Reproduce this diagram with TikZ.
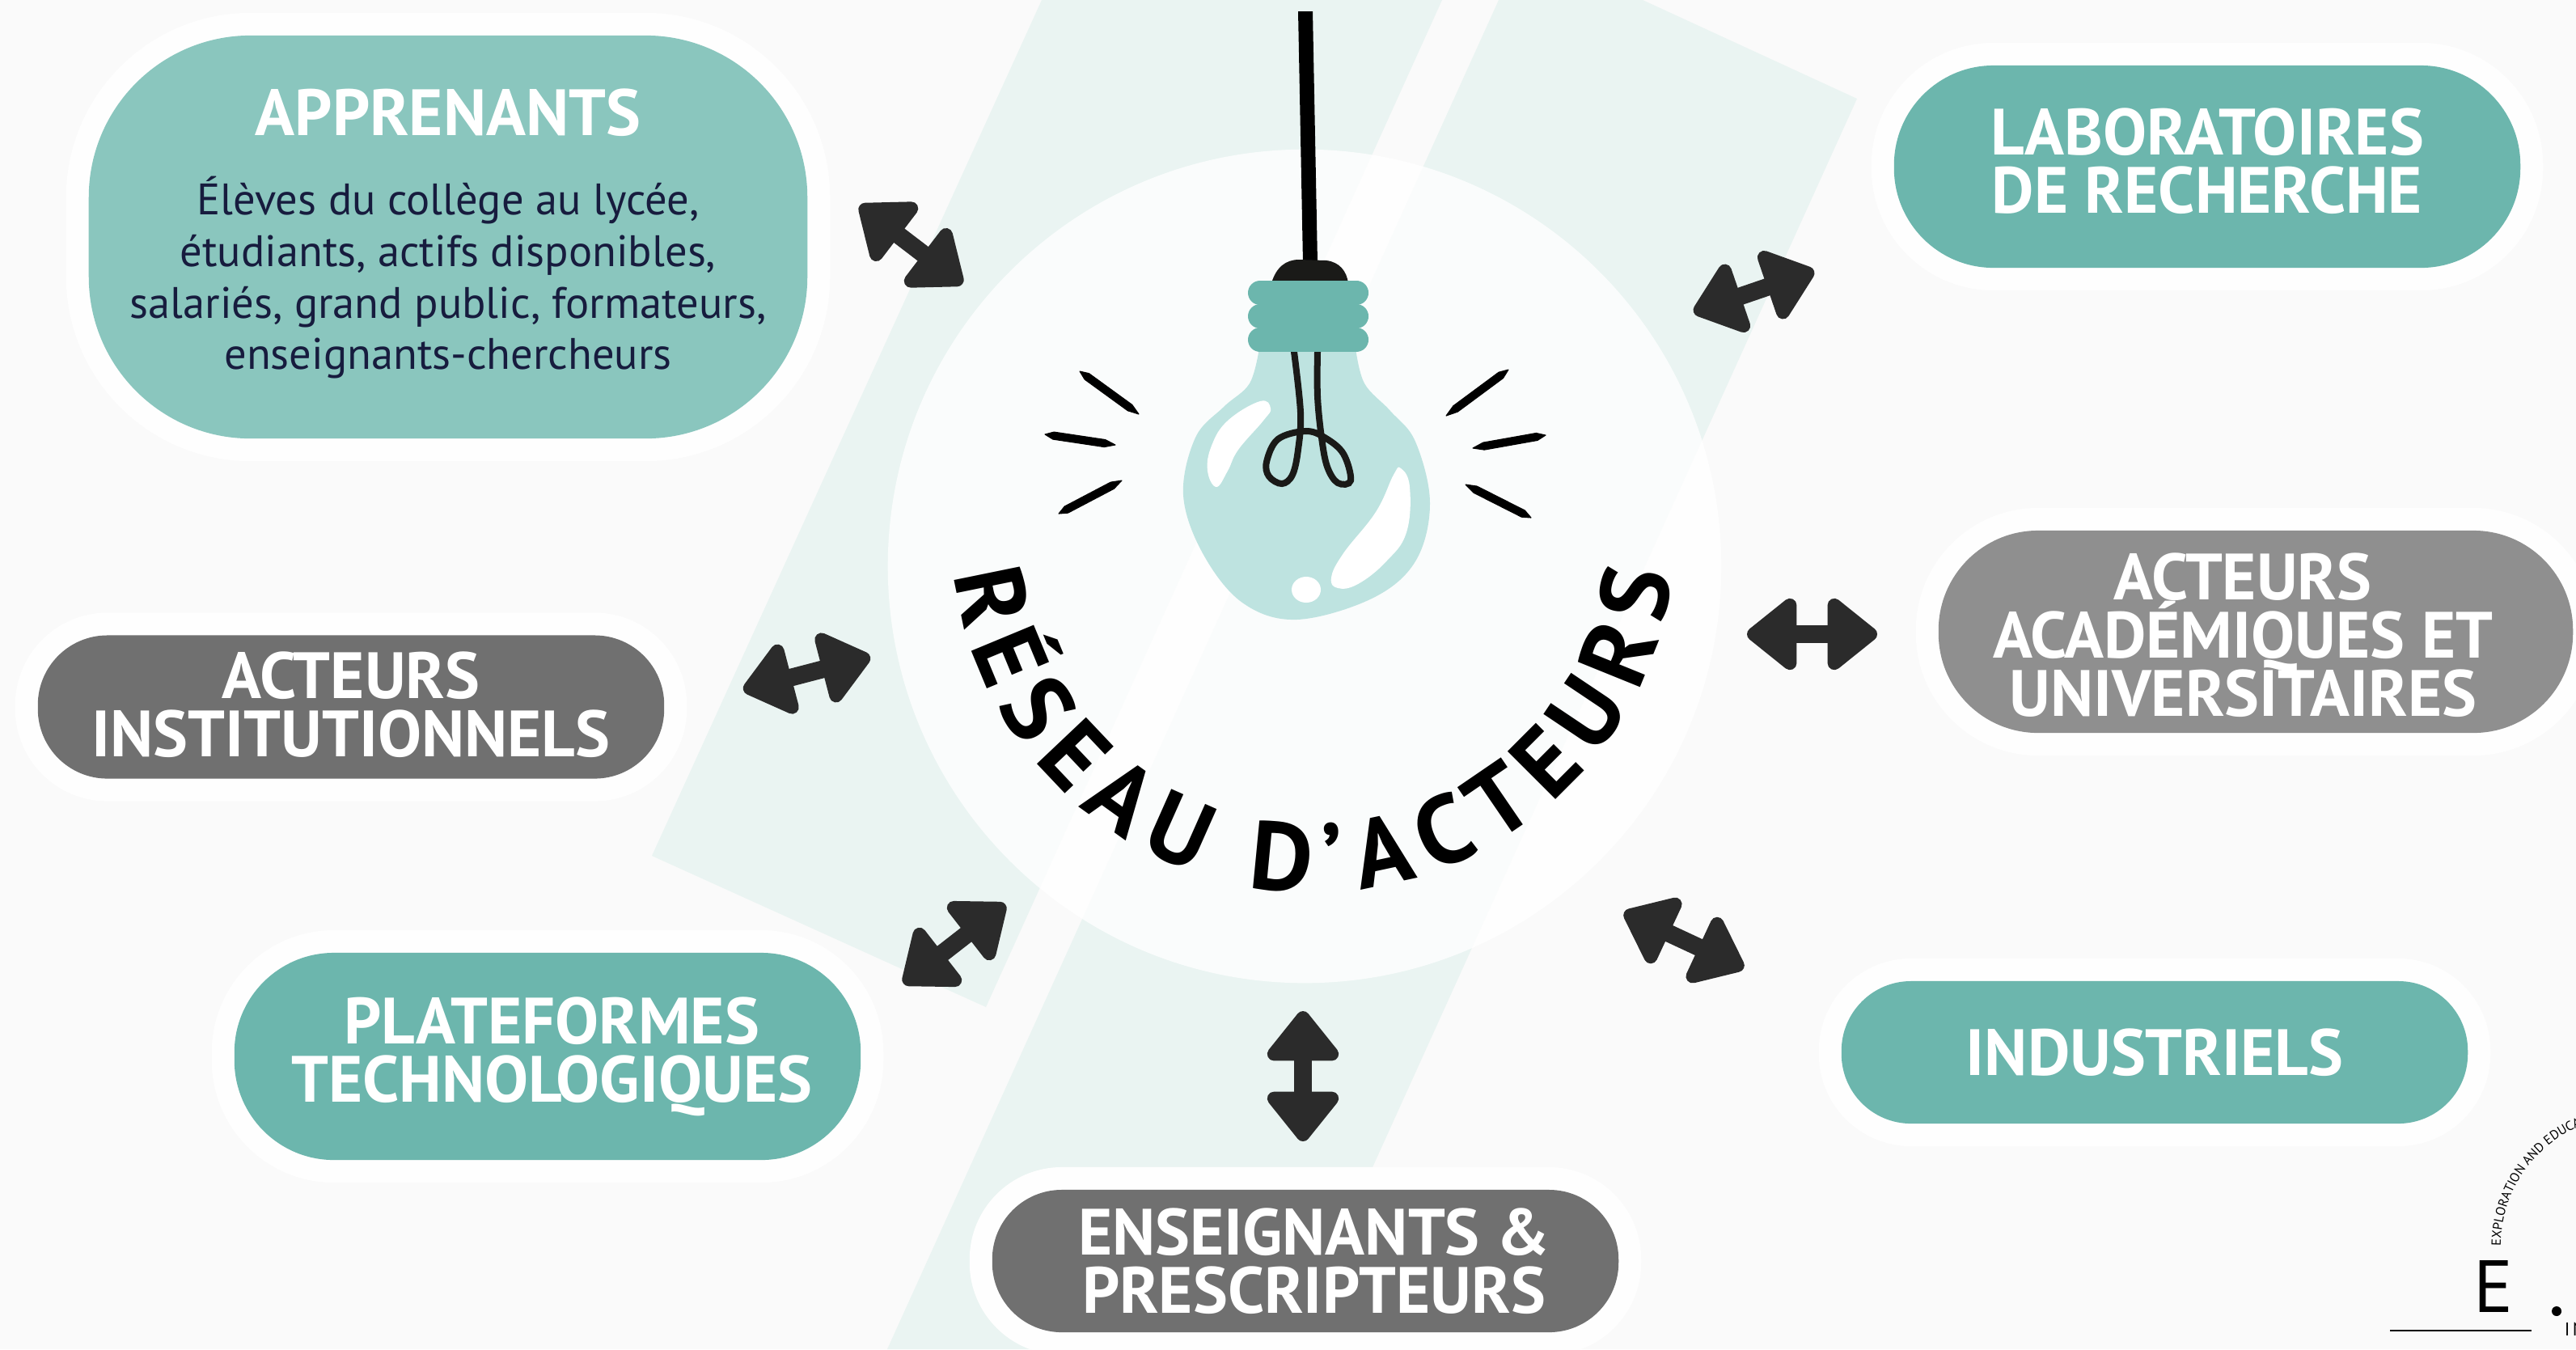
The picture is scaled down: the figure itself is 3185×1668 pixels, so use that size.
\documentclass[tikz,border=0pt]{standalone}
\usepackage{fontspec}
\setmainfont{PT Sans}
\usetikzlibrary{arrows.meta,calc,decorations.text}
\definecolor{pagegray}{HTML}{FAFAFA}
\definecolor{bandteal}{HTML}{EAF4F2}
\definecolor{halo}{HTML}{FEFEFE}
\definecolor{tealA}{HTML}{6CB6AD}
\definecolor{tealB}{HTML}{8AC6BE}
\definecolor{grayA}{HTML}{707070}
\definecolor{grayB}{HTML}{8F8F8F}
\definecolor{inkdark}{HTML}{2B2B2B}
\definecolor{inknavy}{HTML}{171C3E}
\definecolor{glass}{HTML}{BEE3E0}
\definecolor{wiredark}{HTML}{1A1A18}
\newcommand\headfont{\bfseries\fontsize{23}{20.5}\selectfont\lineskiplimit=-10pt\relax}
\tikzset{
  pill/.style={rectangle,fill=#1,text=white,align=center,inner sep=0pt,outer sep=0pt,
    minimum width=7.74cm,font=\headfont,
    preaction={draw=halo,line width=.56cm}},
  duoarrow/.style={line width=6.2pt,inkdark,
    {Triangle[length=19pt,width=29pt,round,line width=5pt]}-{Triangle[length=19pt,width=29pt,round,line width=5pt]}},
  ray/.style={fill=black,draw=black,line width=.3pt,line join=round},
  filament/.style={draw=wiredark,line width=.08cm,line cap=round},
  collar/.style={draw=tealA,line width=.3cm,line cap=round}
}
\begin{document}
\begin{tikzpicture}[x=.01cm,y=-.01cm]
\useasboundingbox (0,0) rectangle (3185,1668);
\clip (0,0) rectangle (3185,1668);
\fill[pagegray] (0,0) rectangle (3185,1668);

% slanted bands and disc
\fill[bandteal] (1288,0) -- (1783,0) -- (1219,1245) -- (806,1058) -- cycle;
\fill[bandteal] (1853,0) -- (2031,0) -- (2296,122) -- (1595,1668) -- (1097,1668) -- cycle;
\fill[white,opacity=.8] (1613,700) circle (5.15cm);

% actors
\node[pill=tealB,rounded corners=2cm,minimum width=8.88cm,minimum height=4.98cm] (apprenants) at (554,293)
  {APPRENANTS\\[13pt]\color{inknavy}\mdseries\fontsize{15.5}{18.1}\selectfont
   \begin{tabular}{@{}c@{}}Élèves du collège au lycée,\\
   étudiants, actifs disponibles,\\ salariés, grand public, formateurs,\\ enseignants-chercheurs\end{tabular}};
\node[pill=tealA,rounded corners=1.23cm,minimum height=2.5cm] (labos) at (2729,206) {LABORATOIRES\\DE RECHERCHE\rule[-4pt]{0pt}{0pt}};
\node[pill=grayB,rounded corners=1.23cm,minimum width=7.84cm,minimum height=2.5cm] (academiques) at (2789,781)
  {\rule{0pt}{19pt}ACTEURS\kern9pt\\ACADÉMIQUES ET\kern9pt\\UNIVERSITAIRES\kern9pt};
\node[pill=tealA,rounded corners=.86cm,minimum height=1.76cm] (industriels) at (2664,1301) {INDUSTRIELS};
\node[pill=grayA,rounded corners=.86cm,minimum height=1.76cm] (enseignants) at (1614,1559) {\hspace{6pt}ENSEIGNANTS \&\\\hspace{6pt}PRESCRIPTEURS};
\node[pill=tealA,rounded corners=1.23cm,minimum height=2.56cm] (plateformes) at (677,1306) {\hspace{3pt}PLATEFORMES\\\hspace{3pt}TECHNOLOGIQUES};
\node[pill=grayA,rounded corners=.86cm,minimum height=1.77cm] (institutionnels) at (434,874) {ACTEURS\\INSTITUTIONNELS\rule[-2pt]{0pt}{0pt}};

% double arrows
\coordinate (a1) at (1063,254); \coordinate (b1) at (1190,351);
\coordinate (a2) at (2094,386); \coordinate (b2) at (2243,335);
\coordinate (a3) at (2160,784); \coordinate (b3) at (2321,784);
\coordinate (a4) at (2008,1128); \coordinate (b4) at (2156,1197);
\coordinate (a5) at (1611,1250); \coordinate (b5) at (1611,1411);
\coordinate (a6) at (1117,1216); \coordinate (b6) at (1243,1118);
\coordinate (a7) at (919,853); \coordinate (b7) at (1076,812);
\foreach \i in {1,...,7} \draw[duoarrow] (a\i) -- (b\i);

% lamp
\fill[black] (1605,14) -- (1623,14) -- (1629,325) -- (1611,325) -- cycle;
\fill[wiredark] (1572,350) .. controls (1578,330) and (1590,321) .. (1606,321)
  -- (1640,322) .. controls (1656,324) and (1665,335) .. (1667,350) -- cycle;
\fill[glass] plot[smooth,tension=.6] coordinates {(1557,430) (1545,474) (1513,503) (1478,541) (1463,612)
  (1487,684) (1536,745) (1603,766) (1696,740) (1750,694) (1768,622) (1750,546) (1719,508) (1687,474) (1676,430)};
\fill[white] plot[smooth cycle,tension=.7] coordinates {(1571,505) (1558,496) (1518,520) (1498,551) (1493,582)
  (1504,602) (1518,582) (1531,556) (1562,520)};
\fill[white] plot[smooth cycle,tension=.7] coordinates {(1732,579) (1743,602) (1739,658) (1714,694) (1679,722)
  (1654,727) (1646,714) (1661,684) (1701,633) (1723,587)};
\fill[white] (1615,729) ellipse (.18cm and .16cm);
\draw[filament] plot[smooth,tension=.6] coordinates {(1600,435) (1608,510) (1605,556) (1598,587) (1585,598)
  (1569,589) (1566,571) (1580,543) (1614,533) (1638,541) (1661,561) (1670,594) (1654,597) (1641,577)
  (1634,541) (1629,490) (1629,435)};
\fill[tealA] (1557,350) rectangle (1678,433);
\draw[collar] (1558,362) -- (1677,362);
\draw[collar] (1558,391) -- (1677,391);
\draw[collar] (1558,420) -- (1677,420);

% rays
\foreach \xa/\ya/\xb/\yb in {1335/459/1408/512,1292/537/1379/550,1309/635/1387/594,
  1865/457/1788/514,1911/538/1821/554,1893/640/1812/599}{
  \coordinate (s) at (\xa,\ya); \coordinate (e) at (\xb,\yb);
  \fill[ray] (s) -- ($(s)!.12!(e)!1.3pt!90:(e)$) -- ($(s)!.85!(e)!1.3pt!90:(e)$) -- (e)
    -- ($(s)!.85!(e)!1.3pt!-90:(e)$) -- ($(s)!.12!(e)!1.3pt!-90:(e)$) -- cycle;
}

% title
\coordinate (titlestart) at (1180,710);
\path[decorate,decoration={text along path,text align={fit to path},
  text={|\bfseries\fontsize{34}{34}\selectfont|RÉSEAU D’ACTEURS}}]
  (titlestart) arc[start angle=187,end angle=353,radius=4.47cm];

% logo
\coordinate (logostart) at (3092,1540);
\path[decorate,decoration={text along path,text align={left},
  text={|\fontsize{4.6}{5}\selectfont|EXPLORATION AND EDUCA}}]
  (logostart) arc[start angle=180,end angle=60,radius=1.6cm];
\node[font=\fontsize{26}{26}\selectfont,inner sep=0pt] (logoletter) at (3083,1590) {E};
\coordinate (rulestart) at (2955,1645); \coordinate (ruleend) at (3130,1645);
\draw[line width=.6pt] (rulestart) -- (ruleend);
\fill (3161,1621) circle (.06cm);
\node[font=\fontsize{6.5}{6.5}\selectfont,anchor=west,inner sep=0pt] (logotail) at (3170,1643) {I\kern1pt N};
\end{tikzpicture}
\end{document}
